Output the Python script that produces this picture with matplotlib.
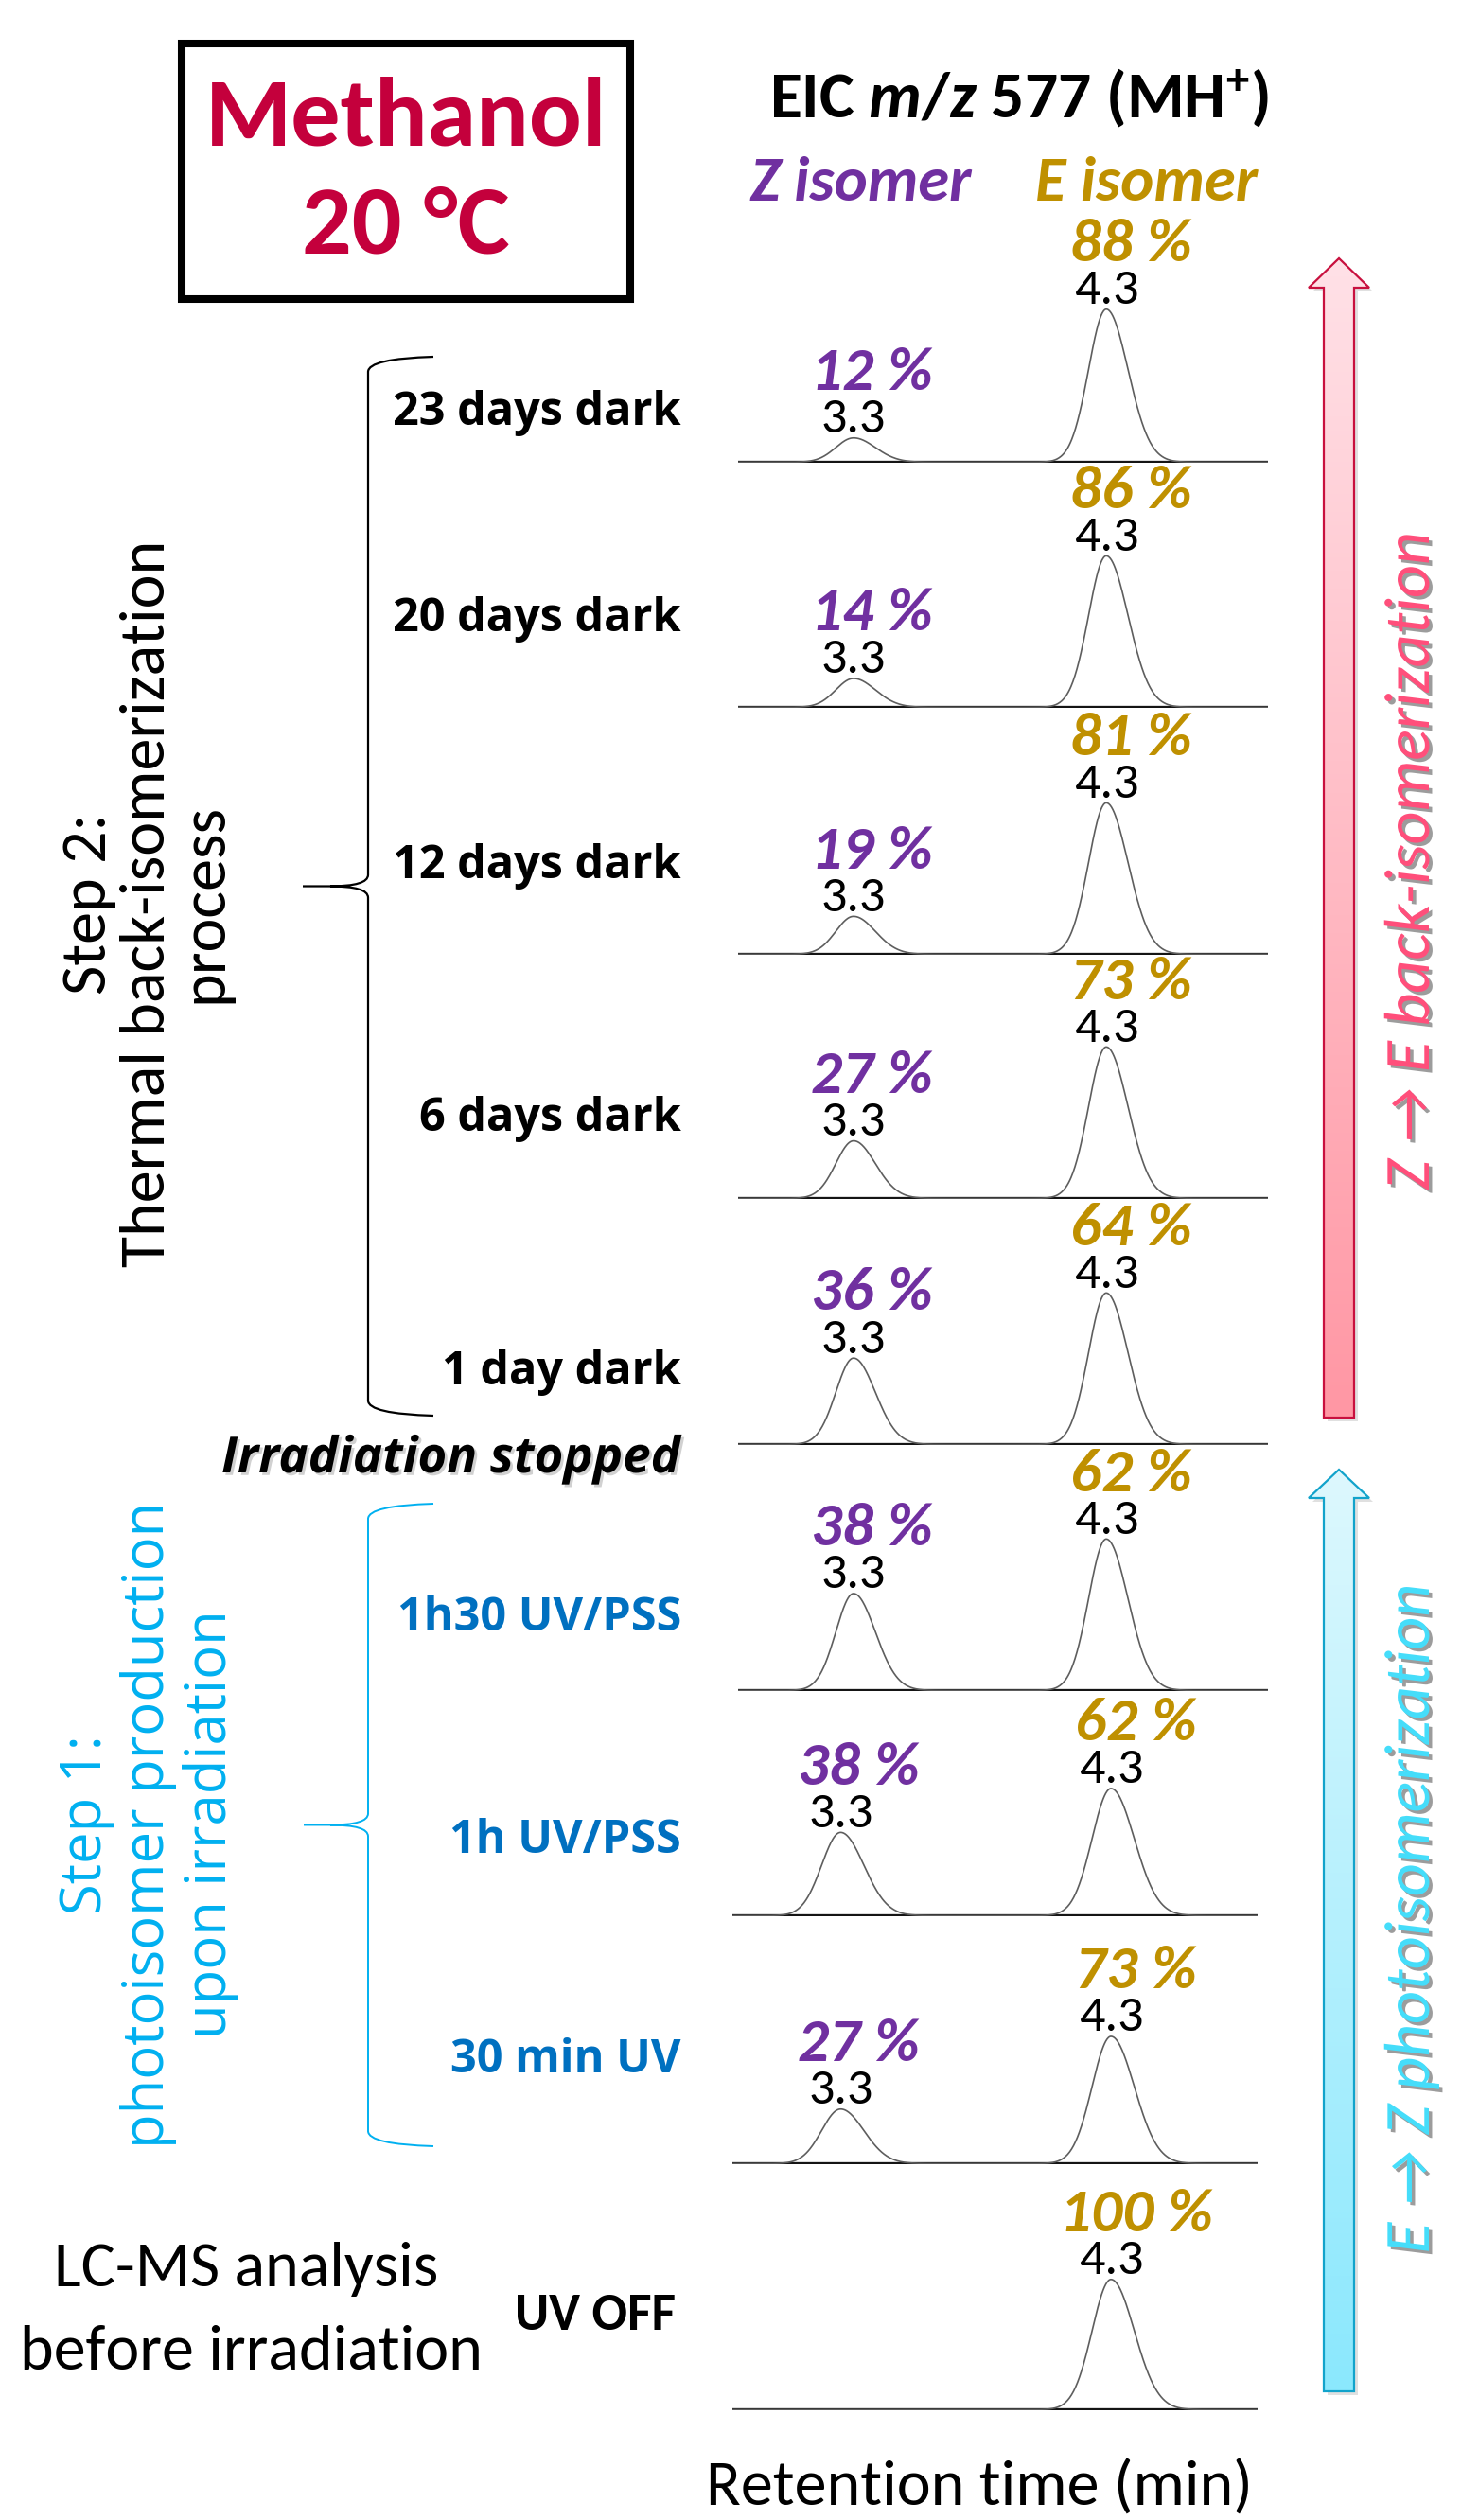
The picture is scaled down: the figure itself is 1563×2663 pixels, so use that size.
import numpy as np
import matplotlib
matplotlib.use("Agg")
import matplotlib.pyplot as plt
import matplotlib.patheffects as pe
from matplotlib.path import Path
from matplotlib.patches import PathPatch, Polygon, Rectangle
from matplotlib.colors import LinearSegmentedColormap

# ---- chromatogram data (top panel = last sample) ----
samples = ["23 days dark", "20 days dark", "12 days dark", "6 days dark", "1 day dark",
           "1h30 UV/PSS", "1h UV/PSS", "30 min UV", "UV OFF"]
z_pct = [12, 14, 19, 27, 36, 38, 38, 27, None]
e_pct = [88, 86, 81, 73, 64, 62, 62, 73, 100]
rt_z = 3.3
rt_e = 4.3
# peak apex intensities (arbitrary units)
z_height = [16, 19, 25, 38, 57, 64, 55, 36, 0]
e_height = [101, 100, 100, 100, 100, 100, 84, 84, 86]

W, H = 1563, 2663
CAL = ["Carlito", "Lato", "DejaVu Sans"]
SEG = ["Open Sans", "DejaVu Sans"]
PURPLE = "#7030A0"
GOLD = "#BF9000"

plt.rcParams["mathtext.fontset"] = "custom"
plt.rcParams["mathtext.rm"] = "Carlito:bold"
plt.rcParams["mathtext.it"] = "Carlito:italic:bold"
plt.rcParams["mathtext.bf"] = "Carlito:bold"

fig = plt.figure(figsize=(W / 100, H / 100), dpi=100)
fig.patch.set_facecolor("white")

# overlay in pixel coordinates for the annotations
ov = fig.add_axes([0, 0, 1, 1])
ov.set_xlim(0, W)
ov.set_ylim(H, 0)
ov.axis("off")

# ---- chromatogram panels ----
baselines = [489, 748, 1009, 1267, 1527, 1787, 2025, 2287, 2547]
sig_l, sig_r = 0.070, 0.086


def peak(t, rt, h):
    s = np.where(t < rt, sig_l, sig_r)
    return h * np.exp(-0.5 * ((t - rt) / s) ** 2)


for i, base in enumerate(baselines):
    if i < 6:
        x0, x1, xlim = 780, 1340, (2.843, 4.94)
    else:
        x0, x1, xlim = 774, 1329, (2.90, 4.842)
    ax = fig.add_axes([x0 / W, 1 - base / H, (x1 - x0) / W, 200 / H])
    ax.set_xlim(*xlim)
    ax.set_ylim(0, 125)
    ax.axis("off")
    t = np.linspace(xlim[0], xlim[1], 800)
    sig = peak(t, rt_z, z_height[i]) + peak(t, rt_e, e_height[i])
    ax.axhline(0, color="#151515", lw=3.1, zorder=1)
    ax.plot(t, sig + 0.4, color="#5e5e5e", lw=1.2, zorder=2)

    labels = [(rt_e, e_height[i], e_pct[i], GOLD, 19)]
    if z_pct[i] is not None:
        labels.append((rt_z, z_height[i], z_pct[i], PURPLE, 14))
    for rt, h, pct, col, dx in labels:
        ax.annotate(f"{rt:.1f}", xy=(rt, h), xytext=(0, 4.5), textcoords="offset points",
                    ha="center", va="baseline", fontsize=39, family=CAL,
                    annotation_clip=False)
        ax.annotate(f"{pct} %", xy=(rt, h), xytext=(dx, 37), textcoords="offset points",
                    ha="center", va="baseline", fontsize=47, family=CAL,
                    weight="bold", style="italic", color=col, annotation_clip=False)

# ---- title box ----
ov.add_patch(Rectangle((192, 46), 474, 270, fill=False, lw=5.8, ec="black"))
ov.text(429, 153, "Methanol", ha="center", va="baseline", fontsize=75,
        family=CAL, weight="bold", color="#C4003C")
ov.text(429, 268, "20 °C", ha="center", va="baseline", fontsize=75,
        family=CAL, weight="bold", color="#C4003C")

# ---- column headers ----
ov.text(1077, 124, r"EIC $\mathit{m/z}$ 577 (MH$^{+}$)", ha="center", va="baseline",
        fontsize=50, family=CAL, weight="bold")
ov.text(910, 212, "Z isomer", ha="center", va="baseline", fontsize=48,
        family=CAL, weight="bold", style="italic", color=PURPLE)
ov.text(1212, 212, "E isomer", ha="center", va="baseline", fontsize=48,
        family=CAL, weight="bold", style="italic", color=GOLD)

# ---- sample labels ----
label_y = [449, 667, 928, 1195, 1463, 1723, 1958, 2190]
for i, y in enumerate(label_y):
    col = "black" if i < 5 else "#0070C0"
    ov.text(720, y, samples[i], ha="right", va="baseline", fontsize=35,
            family=SEG, weight="bold", color=col)
ov.text(714, 2462, samples[8], ha="right", va="baseline", fontsize=40,
        family=CAL, weight="bold")

ov.text(719, 1556, "Irradiation stopped", ha="right", va="baseline", fontsize=38,
        family=SEG, weight="bold", style="italic",
        path_effects=[pe.withSimplePatchShadow(offset=(2, -2), shadow_rgbFace="0.55", alpha=0.4)])


# ---- curly braces ----
def brace(x_right, y_top, y_bot, x_tip, color, lw):
    xv = x_right - 69
    ym = (y_top + y_bot) / 2
    verts = [(x_right, y_top), (xv, y_top + 2), (xv, y_top + 16),
             (xv, ym - 12), (xv, ym), (xv - 40, ym), (x_tip, ym),
             (xv - 40, ym), (xv, ym), (xv, ym + 12),
             (xv, y_bot - 16), (xv, y_bot - 2), (x_right, y_bot)]
    codes = [Path.MOVETO, Path.CURVE3, Path.CURVE3,
             Path.LINETO, Path.CURVE3, Path.CURVE3, Path.LINETO,
             Path.MOVETO, Path.CURVE3, Path.CURVE3,
             Path.LINETO, Path.CURVE3, Path.CURVE3]
    ov.add_patch(PathPatch(Path(verts, codes), fill=False, ec=color, lw=lw))


brace(458, 377, 1496, 320, "black", 1.6)
brace(458, 1589, 2268, 321, "#00B0F0", 1.4)

# ---- side captions ----
step2 = ["Step 2:", "Thermal back-isomerization", "process"]
for txt, xb in zip(step2, [112, 174, 234]):
    ov.text(xb, 955, txt, rotation=90, rotation_mode="anchor", ha="center",
            va="baseline", fontsize=49, family=CAL)

step1 = ["Step 1:", "photoisomer production", "upon irradiation"]
for txt, xb in zip(step1, [107, 173, 239]):
    ov.text(xb, 1928, txt, rotation=90, rotation_mode="anchor", ha="center",
            va="baseline", fontsize=43, family=SEG, color="#00B0F0")

ov.text(260, 2416, "LC-MS analysis", ha="center", va="baseline", fontsize=49, family=CAL)
ov.text(265, 2504, "before irradiation", ha="center", va="baseline", fontsize=49, family=CAL)
ov.text(1035, 2648, "Retention time (min)", ha="center", va="baseline", fontsize=49, family=CAL)


# ---- gradient block arrows ----
def block_arrow(tip_y, head_y, bot_y, c_top, c_bot, edge):
    xc, hw, sw = 1415, 32, 16
    pts = [(xc, tip_y), (xc + hw, head_y), (xc + sw, head_y), (xc + sw, bot_y),
           (xc - sw, bot_y), (xc - sw, head_y), (xc - hw, head_y)]
    shadow = Polygon([(x + 4, y + 4) for x, y in pts], closed=True,
                     fc="0.6", ec="none", alpha=0.3)
    ov.add_patch(shadow)
    poly = Polygon(pts, closed=True, fc="none", ec=edge, lw=1.6, zorder=3)
    ov.add_patch(poly)
    cmap = LinearSegmentedColormap.from_list("g", [c_top, c_bot])
    grad = np.linspace(0, 1, 256).reshape(-1, 1)
    im = ov.imshow(grad, cmap=cmap, aspect="auto", origin="upper",
                   extent=(xc - hw, xc + hw, bot_y, tip_y), zorder=2)
    im.set_clip_path(poly)


block_arrow(273, 304, 1498, "#FFE1E7", "#FF97A4", "#C8103E")
block_arrow(1553, 1583, 2527, "#DDF8FE", "#8BE8FD", "#12A3CB")
ov.set_xlim(0, W)
ov.set_ylim(H, 0)

shadow_fx = [pe.withSimplePatchShadow(offset=(2.5, -2.5), shadow_rgbFace="0.45", alpha=0.7)]
ov.text(1510, 910, "Z \u2192 E back-isomerization", rotation=90, rotation_mode="anchor",
        ha="center", va="baseline", fontsize=49, family=CAL, style="italic",
        color="#FF4F7B", path_effects=shadow_fx)
ov.text(1510, 2028, "E \u2192 Z photoisomerization", rotation=90, rotation_mode="anchor",
        ha="center", va="baseline", fontsize=49, family=CAL, style="italic",
        color="#45DDFA", path_effects=shadow_fx)

fig.savefig("out.png", dpi=100)
